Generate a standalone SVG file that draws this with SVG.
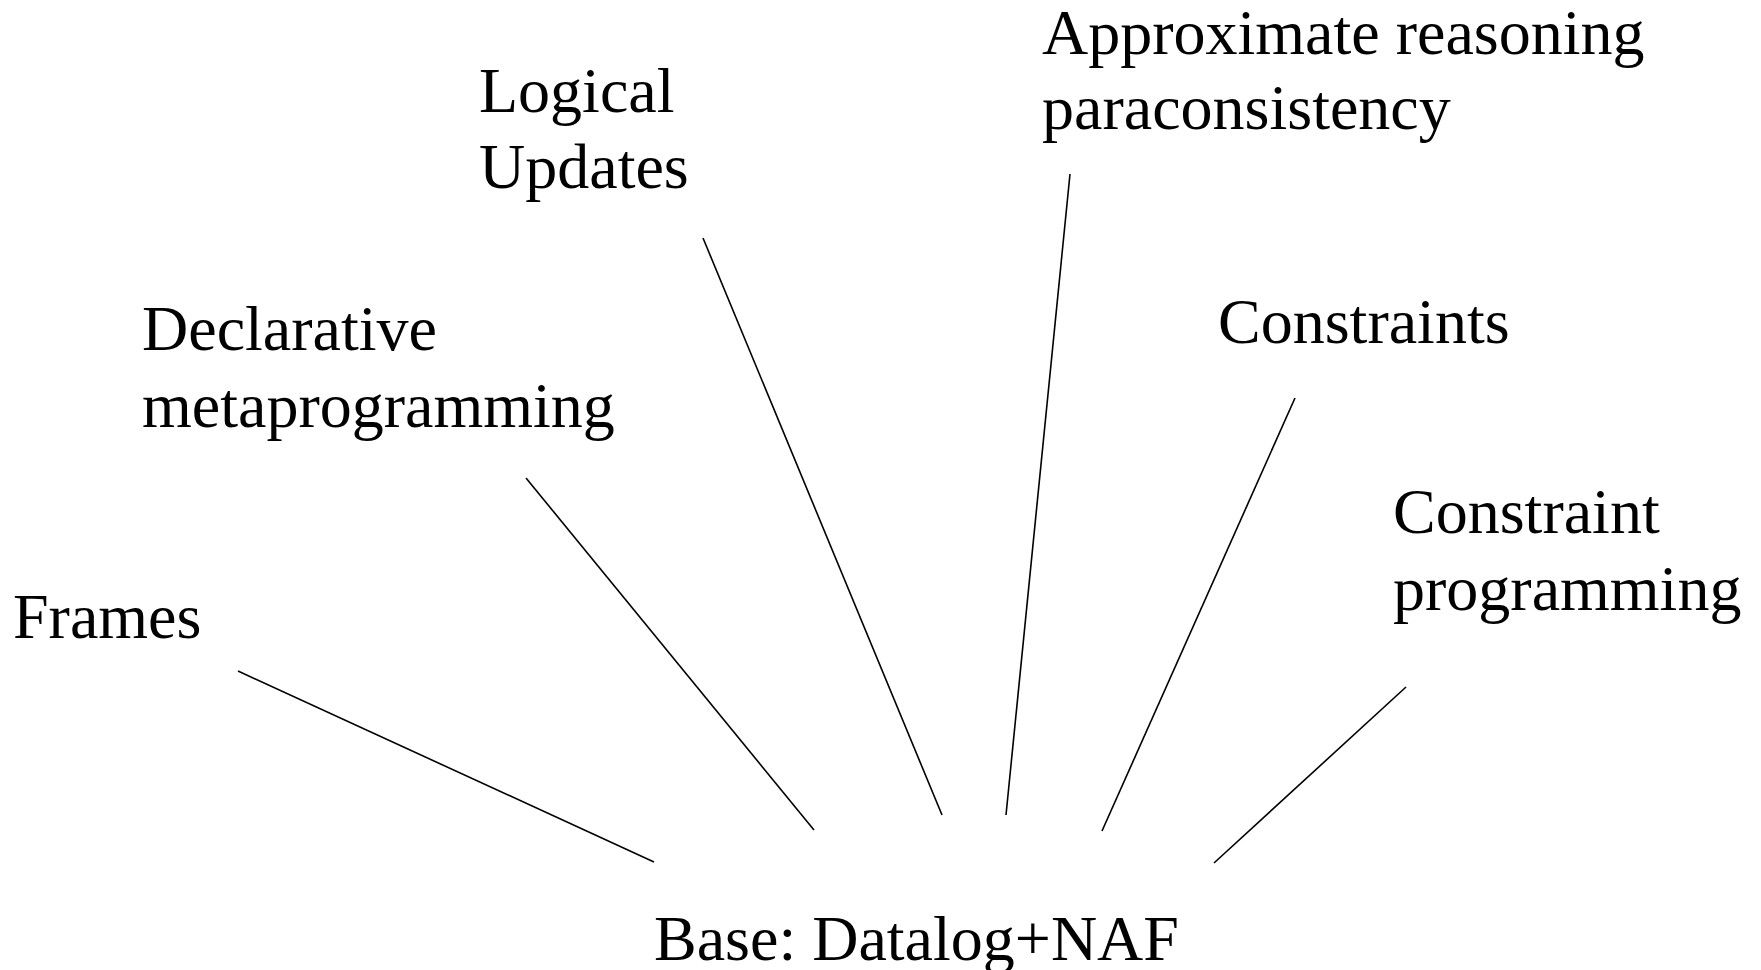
<svg xmlns="http://www.w3.org/2000/svg" width="1761" height="970" viewBox="0 0 1761 970">
<style>
text{font-family:"Liberation Serif","Times New Roman",serif;font-size:64px;fill:#000}
.c line{stroke:#000;stroke-width:1.6;fill:none}
</style>
<rect width="1761" height="970" fill="#fff"/>
<g id="frames"><text x="13" y="638">Frames</text></g>
<g id="declarative"><text x="142" y="350">Declarative</text><text x="142" y="427">metaprogramming</text></g>
<g id="logical"><text x="479" y="112">Logical</text><text x="479" y="188">Updates</text></g>
<g id="approx"><text x="1042" y="54">Approximate reasoning</text><text x="1042" y="129">paraconsistency</text></g>
<g id="constraints"><text x="1218" y="343">Constraints</text></g>
<g id="cp"><text x="1393" y="533">Constraint</text><text x="1393" y="610">programming</text></g>
<g id="base"><text x="654" y="960">Base: Datalog+NAF</text></g>
<g class="c" id="connectors">
<line x1="238" y1="671" x2="654" y2="862"/>
<line x1="526" y1="478" x2="814" y2="830"/>
<line x1="703" y1="238" x2="942" y2="815"/>
<line x1="1070" y1="174" x2="1006" y2="815"/>
<line x1="1295" y1="398" x2="1102" y2="831"/>
<line x1="1406" y1="687" x2="1214" y2="863"/>
</g>
</svg>
